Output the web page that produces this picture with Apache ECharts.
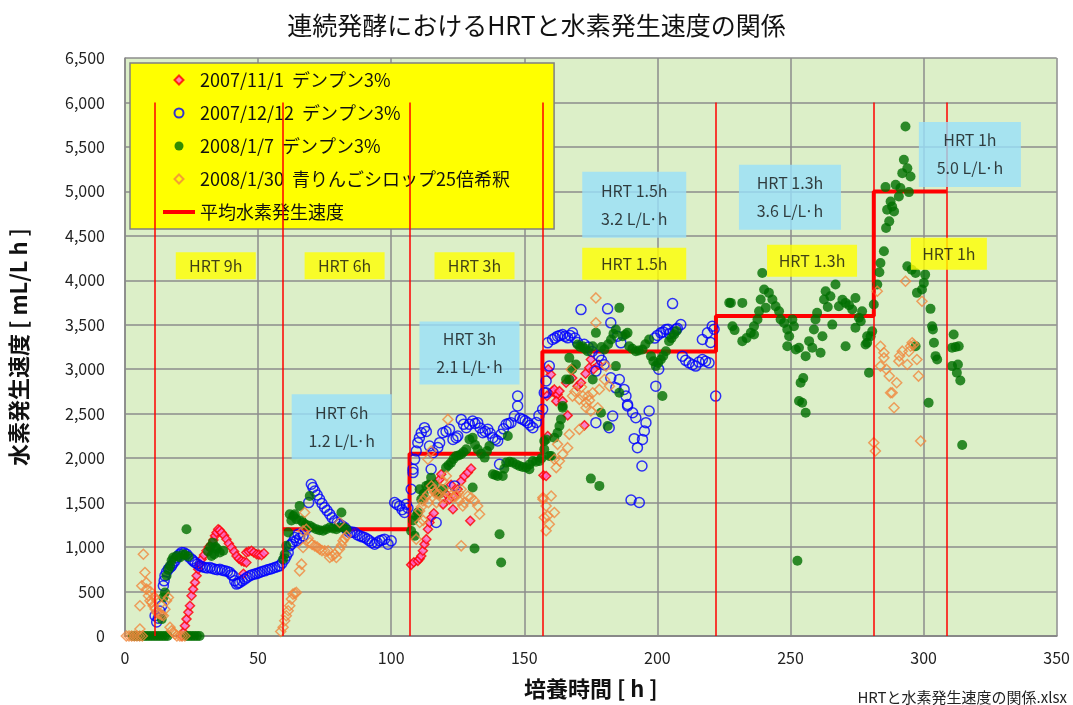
<!DOCTYPE html>
<html><head><meta charset="utf-8">
<script src="https://cdn.jsdelivr.net/npm/echarts@6/dist/echarts.min.js"></script>
<style>html,body{margin:0;padding:0;background:#fff}#c{width:1073px;height:705px}</style>
</head><body><div id="c"></div>
<script>
const FONT = '"Noto Sans CJK JP","Noto Sans",sans-serif';
const seriesNames = ['2007/11/1  デンプン3%','2007/12/12  デンプン3%','2008/1/7  デンプン3%','2008/1/30  青りんごシロップ25倍希釈','平均水素発生速度'];
const xTicks = [0,50,100,150,200,250,300,350];
const yTicks = [0,500,1000,1500,2000,2500,3000,3500,4000,4500,5000,5500,6000,6500];

const s1 = [[21.3,0],[21.9,41],[22.5,115],[23.1,190],[23.8,268],[24.4,340],[25.0,452],[25.6,527],[26.3,603],[26.9,677],[27.5,752],[28.1,808],[28.8,864],[29.7,910],[30.6,958],[31.5,1000],[32.5,1033],[33.2,1080],[33.8,1126],[34.4,1165],[35.0,1201],[35.6,1190],[36.3,1164],[37.2,1130],[38.1,1089],[39.0,1040],[40.0,995],[41.0,950],[41.9,901],[42.8,870],[43.8,845],[44.7,835],[45.6,827],[45.6,940],[46.5,950],[47.5,958],[48.4,940],[49.4,920],[50.3,915],[51.3,909],[52.2,930],[44.5,700],
[107.5,800],[108.5,830],[110,845],[110.7,870],[111.3,901],[111.9,958],[112.5,1033],[113.2,1089],[113.8,1201],[114.4,1276],[115.1,1332],[116,1380],[118.2,1762],[118.8,1819],[121.9,1538],[123.2,1426],[123.8,1575],[125.0,1650],[126.3,1743],[127.5,1800],[128.8,1838],[130,1883],[129.7,1295],[120.5,1600],[119.5,1480],[122.5,1700],
[157.2,1807],[158.2,1800],[158.8,2249],[160.6,2754],[162,2717],[160,2941],[161.3,2773],[162.5,2717],[163.2,2754],[165.7,2848],[166.3,2481],[170,2810],[171.3,2848],[172.6,2369],[174.4,3016],[175,3110],[162,2641],[164.4,2641],[168,2900],[173,2950],[176,3000],[178,3050],[159,3000],[158.5,2700]];

const s2 = [[11.3,228],[11.9,157],[12.5,200],[13.1,280],[13.8,340],[14.4,565],[14.7,620],[15.0,677],[15.6,720],[16.3,752],[16.9,770],[17.5,789],[18.1,820],[18.8,845],[19.4,880],[20,901],[20.6,920],[21.3,940],[22.2,935],[23.1,920],[24.0,890],[25.0,864],[25.6,845],[26.3,827],[27.2,810],[28.1,789],[29.0,780],[30.0,771],[30.9,765],[31.9,771],[32.8,760],[33.8,752],[34.7,745],[35.6,752],[36.5,740],[37.5,733],[38.5,725],[39.4,714],[40.0,690],[40.6,677],[41.2,620],[41.9,584],[42.5,595],[43.1,603],[44.0,620],[45.0,640],[45.9,660],[46.9,677],[47.8,690],[48.8,696],[49.7,705],[50.6,714],[51.5,725],[52.5,733],[53.5,745],[54.4,752],[55.3,760],[56.3,771],[57.2,780],[58.1,789],[59.0,820],[60.0,864],[60.6,900],[61.3,940],[61.9,1014],[62.5,1033],[63.2,1060],[63.8,1108],[64.4,1070],[65.0,1145],[65.6,1100],[66.9,1126],[68,1200],[69,1500],[70.0,1706],[70.6,1670],[71.3,1631],[72.2,1585],[73.1,1538],[74.0,1490],[75.0,1445],[75.9,1410],[76.9,1370],[77.8,1330],[78.8,1295],[79.7,1275],[80.6,1257],[81.5,1240],[82.5,1220],[83.4,1190],[84.4,1164],[85.3,1170],[86.3,1164],[87.2,1140],[88.2,1126],[89.1,1115],[90.0,1108],[91.0,1090],[91.9,1070],[92.8,1050],[93.8,1033],[94.7,1050],[95.7,1070],[96.6,1080],[97.5,1089],[98.8,1033],[100,1070],[101.3,1501],[102.2,1480],[103.2,1463],[104.1,1420],[105,1389],[105.6,1482],[106.3,1440],[107.5,1650],[108.2,1838],[108.2,1875],[108.8,1987],[109.4,2080],[110.0,2174],[110.6,2230],[111.3,2286],[112.5,2343],[113.2,2300],[114.4,2137],[115.0,1875],[115.7,2062],[116.9,1276],[117.5,2120],[118.2,2174],[119.4,2286],[120.6,2300],[121.9,2324],[123.2,2211],[123.8,1688],[124.4,2230],[125,2249],[126.3,2436],[127.2,2380],[128.2,2343],[129.4,2380],[130.6,2418],[131.5,2390],[132.5,2399],[133.4,2340],[134.4,2286],[135.3,2300],[136.3,2324],[137.2,2280],[138.2,2230],[139.1,2210],[140,2193],[140.7,1931],[141.3,2268],[142.2,2330],[143.2,2380],[144.1,2390],[145,2399],[146.3,2474],[147.5,2586],[147.5,2698],[148.4,2450],[149.4,2436],[150.3,2420],[151.3,2399],[152.2,2370],[153.2,2343],[154.5,2400],[155.5,2480],[156.9,2549],[157.5,2736],[158.2,2867],[158.2,2736],[158.8,3297],[159.4,3035],[160.6,3334],[161.5,3350],[162.5,3372],[163.4,3380],[164.4,3390],[165.3,3370],[166.3,3353],[167.2,3380],[168.1,3409],[169,3350],[170,3300],[171.3,3671],[172.5,3280],[174,3250],[175.5,3200],[176.9,2979],[176.9,2399],[178,3150],[179,3100],[180,3050],[181.3,3679],[181.9,2343],[182.5,3522],[182.5,2904],[183.2,2474],[184.4,2791],[185,3372],[185.7,2885],[186.3,3297],[187.5,2773],[188.2,2698],[188.8,2586],[188.8,2604],[190.1,1530],[190.7,2511],[191.3,2219],[191.9,2455],[192.5,2118],[193.2,1501],[194.2,1912],[194.4,2211],[195.1,2305],[195.7,2399],[196.9,2530],[199.4,2810],[200.5,3000],[199,3350],[200,3380],[201.3,3409],[202.2,3420],[203.2,3447],[204,3450],[204.5,3400],[205.7,3738],[206,3420],[207,3450],[207.5,3460],[208.8,3502],[209.4,3147],[210.6,3100],[211.9,3072],[213.2,3050],[214.4,3035],[215.6,3080],[216.9,3110],[216.9,3334],[218.1,3090],[218.8,3409],[219.4,3072],[220,3300],[220.6,3484],[221.3,3450],[221.9,2698]];

const s3 = [[3,0],[4,0],[5,0],[6,0],[7,0],[8,0],[9,0],[10,0],[11,0],[12,0],[13,0],[14,0],[15,0],[16,0],[23,0],[24,0],[25,0],[26,0],[27,0],[28,0],
[13.8,190],[14.4,434],[15.0,490],[15.6,677],[16.3,752],[16.9,789],[17.5,850],[18.1,883],[19.4,900],[20.6,883],[21.9,920],[22.5,910],[23.8,894],[23.1,1201],[31.2,950],[32.0,1000],[32.5,901],[33.5,920],[34.5,980],[35.6,940],[36.9,958],[33,1050],[34,1000],
[59.4,864],[60,920],[60.6,1014],[61.3,1164],[61.9,1370],[62.5,1300],[63.2,1350],[63.8,1370],[64.4,1313],[65.6,1463],[66.2,1300],[66.9,1276],[68,1250],[69.4,1575],[69.4,1239],[70.5,1220],[71.9,1201],[73.1,1190],[74.4,1183],[75.6,1200],[76.9,1220],[78.1,1210],[79.4,1201],[80.6,1220],[81.3,1389],[82.2,1220],[83.2,1201],
[107.5,1180],[108.2,1300],[108.8,1126],[109.4,1350],[110,1389],[110.7,1650],[111.3,1538],[112.2,1600],[113.2,1688],[114.1,1700],[115,1781],[116,1700],[117,1620],[118,1600],[119.4,1650],[120.6,1894],[121.5,1920],[122.5,1950],[123.4,1990],[124.4,2024],[125.3,2030],[126.3,2043],[127.2,2070],[128.2,2099],[129.4,2211],[130.6,2230],[130.6,1669],[131.3,984],[131.5,2150],[132.5,2099],[133.8,2050],[135.1,2006],[136,2080],[136.9,2137],[138.2,1819],[139.1,1810],[140,1800],[140.7,1145],[141.3,827],[141.9,1800],[142.5,1880],[143.2,1950],[143.8,2249],[144.5,1960],[145.7,1950],[147,1930],[148.2,1912],[149.4,1900],[150.7,1894],[151.9,1875],[152,1930],[153.2,1968],[154.4,1960],[155.7,1968],[156.5,2000],[157.5,2099],[157.5,2193],[158.2,2211],[159.4,2024],[160.1,2024],[161.3,2230],[162.5,2286],[163.2,2361],[163.8,2436],[164.4,2567],[164.4,2586],[165.7,2885],[166.9,3128],[166.9,2885],[168,3000],[169.4,3053],[170,3278],[171,3250],[171.9,3259],[172.8,3230],[173.8,3203],[175,1770],[175.7,3259],[175.7,2885],[176.9,3409],[178.2,1688],[178.8,2511],[179,3250],[180.1,3222],[181.3,2361],[181.5,3280],[182.6,3334],[183.5,3400],[184.4,3447],[184.4,3035],[185.7,3690],[185.7,2736],[186.9,3372],[188,3390],[188.8,3409],[189.4,3259],[190.6,3230],[191.9,3203],[193,3210],[194.4,3222],[195.5,3280],[196.9,3334],[197.6,3147],[198.5,3090],[199.4,3035],[200.3,3070],[201.3,3110],[201.9,2698],[202.2,3150],[203.2,3203],[204.4,3316],[205.3,3350],[206.3,3390],[207.2,3430],
[227,3747],[227.6,3746],[228.2,3484],[229,3440],[231.9,3746],[231.9,3316],[233.5,3350],[235.1,3409],[236.3,3484],[236.3,3390],[237.6,3559],[238.2,3653],[238.8,3784],[239.4,4083],[240.1,3896],[240.7,3690],[241.9,3859],[243.2,3784],[244.4,3709],[245.7,3653],[246.3,3559],[247.6,3521],[248.8,3446],[248.8,3259],[249.5,3371],[250.7,3559],[251.3,3484],[252,3222],[252.6,846],[253.2,3241],[253.2,2642],[253.8,2848],[254.4,2623],[254.8,2900],[255.7,3147],[255.7,2511],[257,3316],[258.2,3241],[258.8,3446],[259.4,3559],[260,3634],[261.3,3185],[262,3371],[262.6,3784],[263.2,3877],[264,3700],[265,3821],[265.7,3502],[266.9,3952],[268.2,3709],[269.5,3780],[270.7,3746],[270.7,3259],[272,3720],[273.2,3671],[274.4,3802],[274.4,3466],[275.7,3578],[276.4,3540],[276.9,3652],[278.2,3278],[278.8,3297],[278.8,3371],[279.5,2960],[280.1,3371],[280.7,3428],[281.3,3727],[282.6,3952],[283.4,4090],[283.8,4195],[285.1,4326],[285.9,4589],[286.3,4794],[287.1,4663],[287.6,4887],[288.2,4831],[288.9,4775],[285.7,5048],[289.5,5074],[290.7,4943],[291.3,5037],[292,5205],[292.6,5355],[293.2,5729],[293.9,5261],[294.5,4992],[295.1,5168],[293.9,4157],[295.5,4120],[297,4083],[297.5,3859],[299.4,3896],[300.1,3971],[300.6,4064],[301.9,2623],[302.6,3679],[303.2,3484],[303.5,3447],[303.9,3297],[304.5,3147],[305.1,3110],[297,3259],[310.7,3241],[310.7,3035],[311.3,3390],[312,3250],[312.5,2960],[312.9,3053],[313.2,3259],[313.8,2874],[314.5,2148]];

const s4 = [[0.5,0],[1.5,0],[2.5,0],[3.5,0],[4.5,0],[5.5,0],[6.5,0],[5.6,79],[5.6,340],[6.3,565],[6.9,920],[7.5,714],[8.1,527],[8.8,452],[9.4,396],[10,378],[10.6,340],[11.3,303],[11.9,266],[12.5,255],[13.1,247],[13.8,235],[14.4,228],[15.0,300],[15.6,396],[16.3,434],[16.9,98],[17.5,60],[18.1,41],[18.8,20],[19.5,0],[20.6,0],[21.5,0],[22.5,0],[11,440],[12,400],[8,600],[9.5,500],
[58.5,50],[59.4,98],[60,172],[60.6,228],[61.3,284],[61.9,340],[62.5,415],[63.1,471],[63.8,480],[64.4,490],[65.6,733],[66.3,808],[66.9,996],[66.9,1183],[67.5,1389],[68.1,1201],[68.8,1100],[69.4,1052],[70.3,1030],[71.3,1014],[72.2,1000],[73.1,977],[74,960],[75,958],[76.3,958],[76.9,883],[77.8,900],[78.8,920],[79.4,883],[80.6,977],[80.6,1276],[81.3,1020],[81.9,1070],[82.5,1100],[83.2,1126],
[109.4,1089],[110.7,1276],[110.7,1407],[111.3,1450],[111.9,1519],[112.8,1560],[113.8,1594],[113.8,1987],[115,2080],[115.1,1688],[115.7,1650],[116.3,1613],[117.2,1600],[118.2,1594],[118.8,1650],[119.4,1744],[120.7,1800],[121.3,2436],[121.9,1613],[122.5,1580],[123.2,1557],[124.4,1575],[125.2,1610],[126.3,1650],[126.3,1014],[126.9,1463],[127.5,1500],[128.8,1575],[130,1557],[131.3,1519],[132.5,1463],[133.2,1370],[112,1300],[114,1500],[117,1500],[120,1550],[125.6,1520],
[157,1538],[157,1557],[157.5,1332],[158.2,1183],[158.2,1463],[158.8,1351],[159.4,1257],[160.1,1575],[161.3,1389],[161.3,1987],[162,1894],[162.5,2155],[163.2,1968],[164.4,2043],[166.3,2118],[166.9,2268],[167.6,2997],[168.1,2698],[170.7,2324],[170.7,2661],[172,2700],[173.2,2623],[173.2,2567],[174.5,2650],[175,2530],[175.7,2736],[176.9,3522],[176.9,3802],[177.6,2567],[178.2,2773],[180.1,2885],[180.7,3035],[182,2810],[169,2750],[171.5,2800],[174,2700],
[281.3,2174],[281.9,2080],[282.6,3877],[283.8,3259],[283.8,3035],[285.1,3185],[285.1,3128],[287.1,2923],[287.6,2736],[288.2,2736],[288.9,2567],[289.9,2848],[290.7,3091],[292,3203],[293.2,3989],[293.9,3053],[295.1,3259],[295.7,3297],[296.3,3278],[297.5,3110],[298.1,2923],[298.9,2193],[299.4,3764],[286,3000],[291,3150],[294.5,3200]];

const avgStep = [[59.3,1200],[106.9,1200],[106.9,2050],[156.8,2050],[156.8,3200],[222,3200],[222,3600],[281.3,3600],[281.3,5000],[308.7,5000]];
const boundaries = [11.3,59.3,106.9,156.8,222,281.3,308.7];
const boundaryTop = 6000;

const yellowNotes = [['HRT 9h',34.1,4165],['HRT 6h',82.5,4165],['HRT 3h',131.3,4165],['HRT 1.5h',191.3,4187],['HRT 1.3h',258.1,4221],['HRT 1h',309.5,4300]];
const blueNotes = [['HRT 6h\n1.2 L/L·h',81.4,2352],['HRT 3h\n2.1 L/L·h',129.4,3183],['HRT 1.5h\n3.2 L/L·h',191.3,4850],['HRT 1.3h\n3.6 L/L·h',249.8,4934],['HRT 1h\n5.0 L/L·h',317.4,5416]];

const yellowSize = [[80,27],[80,27],[80,27],[104,32],[90,32],[76,32]];
const blueSize = [[100,65],[100,63],[104,66],[102,65],[102,65]];

const DIAMOND = 'path://M0,-10L10,0L0,10L-10,0Z';
const LINEICON = 'path://M0,0L32,0L32,4L0,4Z';
const legendIcons = [DIAMOND,'circle','circle',DIAMOND,LINEICON];

const chart = echarts.init(document.getElementById('c'));
const noteSeries = (notes, sizes, bg) => ({
  type:'scatter', symbolSize:0, silent:true, z:10, legendHoverLink:false,
  data: notes.map((n,i)=>({value:[n[1],n[2]], label:{show:true, position:'inside', formatter:n[0], backgroundColor:bg, width:sizes[i][0], height:sizes[i][1], align:'center', verticalAlign:'middle', lineHeight:28, fontSize:16, color:'#111', fontFamily:FONT, padding:0}}))
});

chart.setOption({
  animation:false,
  title:{text:'連続発酵におけるHRTと水素発生速度の関係', left:'center', top:8, textStyle:{fontSize:25, fontWeight:'normal', color:'#111', fontFamily:FONT}},
  grid:{left:125, right:15, top:58, bottom:68, show:true, backgroundColor:'#DCEFC8', borderWidth:0},
  legend:{orient:'vertical', left:130, top:63, data:seriesNames.map((n,i)=>({name:n, icon:legendIcons[i]})), symbolKeepAspect:true, backgroundColor:'#FFFF00', borderColor:'#808080', borderWidth:1.5, padding:[8,44,8,33], itemGap:15, itemWidth:32, itemHeight:9, textStyle:{fontSize:18, color:'#111', fontFamily:FONT}},
  xAxis:{type:'value', min:0, max:350, interval:50, name:'培養時間 [ h ]', nameLocation:'middle', nameGap:42, nameTextStyle:{fontSize:22, fontWeight:'bold', color:'#111', fontFamily:FONT},
    axisLine:{lineStyle:{color:'#888', width:2}}, axisTick:{show:false}, axisLabel:{fontSize:16, color:'#222', margin:14, fontFamily:FONT},
    splitLine:{lineStyle:{color:'#8c8c8c', width:1.5}}},
  yAxis:{type:'value', min:0, max:6500, interval:500, name:'水素発生速度 [ mL/L h ]', nameLocation:'middle', nameGap:95, nameTextStyle:{fontSize:22, fontWeight:'bold', color:'#111', fontFamily:FONT},
    axisLine:{show:true, lineStyle:{color:'#888', width:1.5}}, axisTick:{show:false}, axisLabel:{fontSize:16, color:'#222', margin:20, fontFamily:FONT, formatter:v=>v.toLocaleString('en-US')},
    splitLine:{lineStyle:{color:'#8c8c8c', width:1.5}}},
  graphic:[{type:'text', right:6, bottom:0, style:{text:'HRTと水素発生速度の関係.xlsx', fontSize:15, fill:'#222', fontFamily:FONT}}],
  series:[
    {name:seriesNames[0], type:'scatter', z:3, symbol:'diamond', symbolSize:9, data:s1, itemStyle:{color:'#FF66CC', borderColor:'#FF0000', borderWidth:1.5}},
    {name:seriesNames[1], type:'scatter', z:3, symbol:'circle', symbolSize:10, data:s2, itemStyle:{color:'rgba(0,0,0,0)', borderColor:'#0000FF', borderWidth:1.5}},
    {name:seriesNames[2], type:'scatter', z:3, symbol:'circle', symbolSize:10, data:s3, itemStyle:{color:'#006F00'}},
    {name:seriesNames[3], type:'scatter', z:3, symbol:'diamond', symbolSize:10, data:s4, itemStyle:{color:'rgba(0,0,0,0)', borderColor:'#F0883E', borderWidth:1.5}},
    {name:seriesNames[4], type:'line', z:2, data:avgStep, symbol:'none', lineStyle:{color:'#FF0000', width:4}, itemStyle:{color:'#FF0000'},
      markLine:{silent:true, symbol:'none', label:{show:false}, lineStyle:{color:'#FF0000', width:1.5, type:'solid'},
        data: boundaries.map(b=>[{coord:[b,0]},{coord:[b,boundaryTop]}])}},
    noteSeries(yellowNotes, yellowSize, '#FFFF00'),
    noteSeries(blueNotes, blueSize, '#99E0FA')
  ]
});
</script></body></html>
